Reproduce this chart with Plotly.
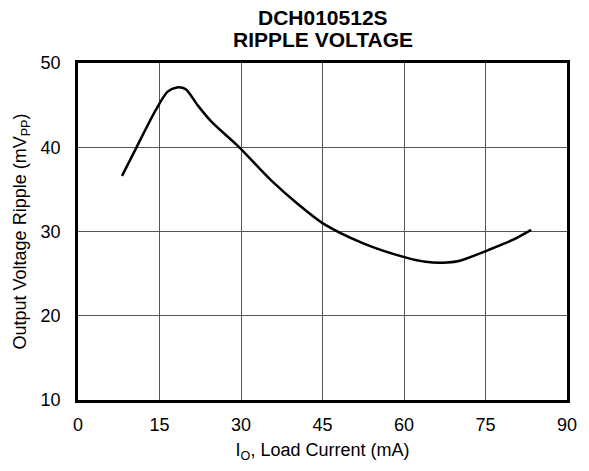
import plotly.graph_objects as go

load_current = [8.1, 10.7, 14.3, 16.5, 18.2, 19.8, 22.0, 24.6, 29.5, 35.5, 40.4, 45.0, 52.5, 60.4, 64.0, 67.0, 70.1, 75.5, 80.0, 83.4]
ripple_mv = [36.6, 39.9, 44.4, 46.6, 47.1, 46.9, 45.0, 43.0, 40.1, 36.1, 33.3, 31.0, 28.6, 26.9, 26.4, 26.3, 26.5, 27.8, 29.0, 30.2]

x_ticks = [0, 15, 30, 45, 60, 75, 90]
y_ticks = [10, 20, 30, 40, 50]
title_lines = ["DCH010512S", "RIPPLE VOLTAGE"]

font_family = "Liberation Sans, Arial, Helvetica, sans-serif"
L, R, T, B = 78, 16, 63, 71
W, H = 589, 471

fig = go.Figure()
fig.add_trace(go.Scatter(
    x=load_current, y=ripple_mv, mode="lines",
    line=dict(color="black", width=2.5, shape="spline", smoothing=0.8),
    showlegend=False,
))

plot_h = H - T - B
annotations = []
for line_text, py in zip(title_lines, [17.5, 39.5]):
    annotations.append(dict(
        text="<b>" + line_text + "</b>", xref="paper", yref="paper",
        x=0.5, y=(H - B - py) / plot_h, xanchor="center", yanchor="middle",
        showarrow=False, font=dict(size=21, family=font_family, color="black"),
    ))

fig.update_layout(
    width=W, height=H,
    margin=dict(l=L, r=R, t=T, b=B),
    paper_bgcolor="white", plot_bgcolor="white",
    font=dict(family=font_family, size=18, color="black"),
    annotations=annotations,
)
fig.update_xaxes(
    range=[0, 90], tickvals=x_ticks, ticktext=[str(v) for v in x_ticks],
    showgrid=True, gridcolor="#555555", gridwidth=1.2,
    showline=True, linecolor="black", linewidth=2.5, mirror=True,
    ticks="", zeroline=False, ticklabelstandoff=7,
    title=dict(text="I<sub>O</sub>, Load Current (mA)", standoff=10, font=dict(size=18)),
    tickfont=dict(size=18),
)
fig.update_yaxes(
    range=[10, 50], tickvals=y_ticks, ticktext=[str(v) for v in y_ticks],
    showgrid=True, gridcolor="#555555", gridwidth=1.2,
    showline=True, linecolor="black", linewidth=2.5, mirror=True,
    ticks="", zeroline=False, ticklabelstandoff=11,
    title=dict(text="Output Voltage Ripple (mV<sub>PP</sub>)", standoff=10, font=dict(size=18)),
    tickfont=dict(size=18),
)

fig.write_html(
    "out.html",
    config={"displayModeBar": False},
    post_script="document.body.style.margin='0';document.body.style.overflow='hidden';",
)
